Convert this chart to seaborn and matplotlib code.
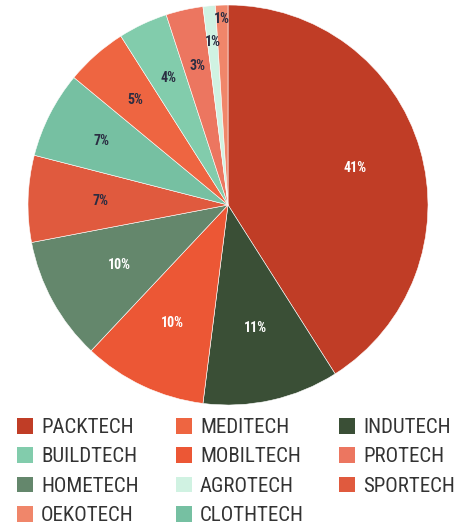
import numpy as np
import matplotlib
matplotlib.use("Agg")
import matplotlib.pyplot as plt
import seaborn as sns
from matplotlib.patches import Patch
from matplotlib.font_manager import FontProperties, findfont

# slices in clockwise order from 12 o'clock
sectors = ["PACKTECH", "INDUTECH", "MOBILTECH", "HOMETECH", "SPORTECH", "CLOTHTECH",
           "MEDITECH", "BUILDTECH", "PROTECH", "AGROTECH", "OEKOTECH"]
shares = [41, 11, 10, 10, 7, 7, 5, 4, 3, 1, 1]
colors = ["#c03d26", "#3a4f36", "#ec5735", "#64876c", "#e05a3e", "#76c0a2",
          "#ee6541", "#82ccac", "#ec7660", "#d0f2e2", "#f0866a"]
label_colors = ["white", "white", "white", "white", "#2b2d42", "#2b2d42",
                "#2b2d42", "#2b2d42", "#2b2d42", "#2b2d42", "#2b2d42"]
label_radius = [0.66, 0.63, 0.65, 0.62, 0.64, 0.71, 0.70, 0.70, 0.71, 0.82, 0.93]

# legend, row-wise, 3 columns
legend_order = ["PACKTECH", "MEDITECH", "INDUTECH", "BUILDTECH", "MOBILTECH", "PROTECH",
                "HOMETECH", "AGROTECH", "SPORTECH", "OEKOTECH", "CLOTHTECH"]

sns.set_style("white")
plt.rcParams['font.family'] = ['DejaVu Sans']

# narrow font if there is one
narrow = None
for fam in ["Liberation Sans Narrow", "Roboto Condensed", "Open Sans Condensed"]:
    try:
        findfont(FontProperties(family=fam), fallback_to_default=False)
        narrow = FontProperties(family=fam)
        break
    except Exception:
        pass
if narrow is None:
    narrow = FontProperties(family="DejaVu Sans", stretch="condensed")

fig = plt.figure(figsize=(4.56, 5.32), dpi=100)
ax = fig.add_axes([28 / 456, 127 / 532, 400 / 456, 400 / 532])

wedges, _ = ax.pie(shares, colors=colors, startangle=90, counterclock=False,
                   wedgeprops=dict(edgecolor="white", linewidth=0.4))
ax.set_xlim(-1, 1)
ax.set_ylim(-1, 1)
ax.set_aspect("equal")
ax.axis("off")

lab_font = narrow.copy()
lab_font.set_weight("bold")
lab_font.set_size(10)
for w, val, tc, r in zip(wedges, shares, label_colors, label_radius):
    ang = np.deg2rad((w.theta1 + w.theta2) / 2)
    ax.text(r * np.cos(ang), r * np.sin(ang), f"{val}%", ha="center", va="center",
            color=tc, fontproperties=lab_font)

color_of = dict(zip(sectors, colors))
leg_font = narrow.copy()
leg_font.set_size(15)
ncol = 3
col_x = [17, 176, 339]
for c in range(ncol):
    names = legend_order[c::ncol]
    handles = [Patch(facecolor=color_of[n], edgecolor="none", label=n) for n in names]
    leg = fig.legend(handles=handles, loc="upper left",
                     bbox_to_anchor=(col_x[c] / 456, 1 - 418 / 532),
                     frameon=False, prop=leg_font, handlelength=0.77, handleheight=0.77,
                     handletextpad=0.38, labelspacing=0.5, borderpad=0, borderaxespad=0,
                     labelcolor="#333333")

fig.savefig("out.png", dpi=100)
